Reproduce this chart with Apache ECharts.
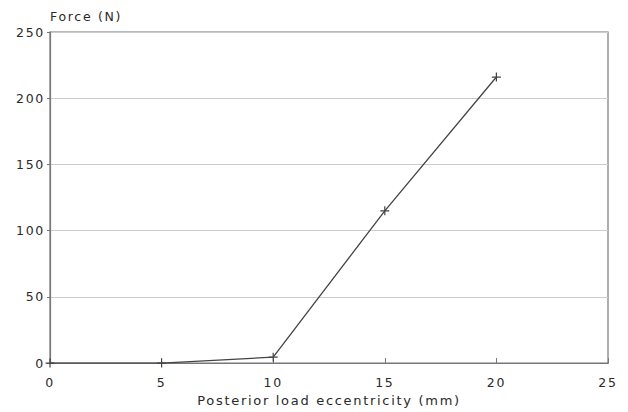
<!DOCTYPE html>
<html><head><meta charset="utf-8">
<script src="https://cdn.jsdelivr.net/npm/echarts@6/dist/echarts.min.js"></script>
<style>html,body{margin:0;padding:0;background:#fff}#c{width:628px;height:412px}#c text{letter-spacing:1.7px}</style>
</head><body><div id="c"></div>
<script>
const eccentricity = [0, 5, 10, 15, 20];
const force = [0, 0, 4.5, 115, 216];
const xTicks = [0, 5, 10, 15, 20, 25];
const yTicks = [0, 50, 100, 150, 200, 250];
const xTitle = 'Posterior load eccentricity (mm)';
const yTitle = 'Force (N)';

const chart = echarts.init(document.getElementById('c'), null, {renderer: 'svg'});
const plus = 'path://M5,0 L5,10 M0,5 L10,5';
chart.setOption({
  animation: false,
  backgroundColor: '#fff',
  textStyle: {fontFamily: 'DejaVu Sans'},
  grid: {left: 50, right: 20, top: 32, bottom: 45, show: true, borderColor: '#777', borderWidth: 1.2},
  xAxis: {
    type: 'value', min: xTicks[0], max: xTicks[xTicks.length - 1], interval: 5,
    name: xTitle, nameLocation: 'middle', nameGap: 27,
    nameTextStyle: {color: '#2a2a2a', fontSize: 13, fontWeight: 'normal'},
    axisLine: {show: true, lineStyle: {color: '#777', width: 1.2}},
    axisTick: {show: true, inside: true, length: 5, lineStyle: {color: '#777'}},
    axisLabel: {color: '#2a2a2a', fontSize: 12.5, fontWeight: 'normal', margin: 13},
    splitLine: {show: false}
  },
  yAxis: {
    type: 'value', min: yTicks[0], max: yTicks[yTicks.length - 1], interval: 50,
    name: yTitle, nameLocation: 'end', nameGap: 9,
    nameTextStyle: {color: '#2a2a2a', fontSize: 12.5, fontWeight: 'normal', align: 'left'},
    axisLine: {show: true, lineStyle: {color: '#777', width: 1.2}},
    axisTick: {show: true, length: 3, lineStyle: {color: '#777'}},
    axisLabel: {color: '#2a2a2a', fontSize: 12.5, fontWeight: 'normal', margin: 5},
    splitLine: {show: true, lineStyle: {color: '#ccc', width: 1.2}}
  },
  series: [{
    type: 'line',
    data: eccentricity.map((x, i) => [x, force[i]]),
    symbol: plus, symbolSize: 9, showSymbol: true,
    lineStyle: {color: '#444', width: 1.3},
    itemStyle: {color: '#444', borderColor: '#444', borderWidth: 1.2},
    z: 5
  }]
});
</script></body></html>
